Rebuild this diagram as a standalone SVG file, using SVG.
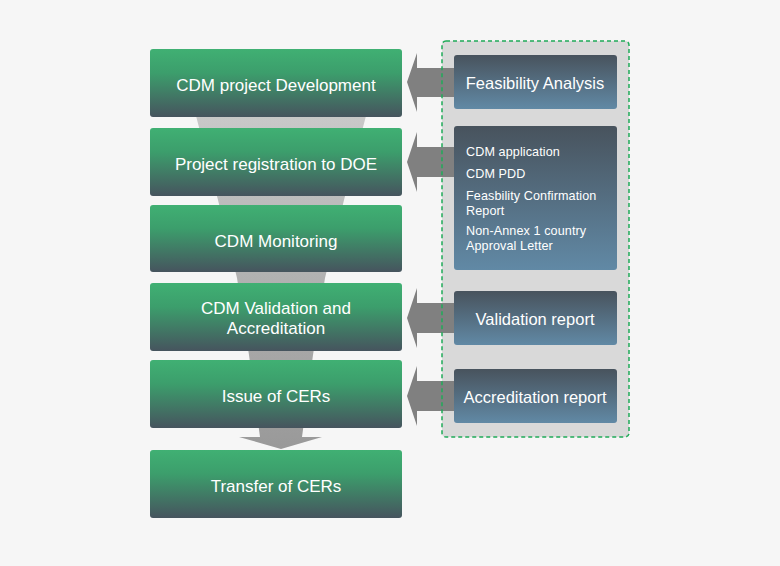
<svg xmlns="http://www.w3.org/2000/svg" width="780" height="566" viewBox="0 0 780 566">
<defs>
<linearGradient id="gGreen" x1="0" y1="0" x2="0" y2="1">
<stop offset="0" stop-color="#40b073"/>
<stop offset="0.35" stop-color="#3c9e6c"/>
<stop offset="1" stop-color="#46545e"/>
</linearGradient>
<linearGradient id="gBlue" x1="0" y1="0" x2="0" y2="1">
<stop offset="0" stop-color="#48535d"/>
<stop offset="1" stop-color="#6189a5"/>
</linearGradient>
<linearGradient id="gFunnel" gradientUnits="userSpaceOnUse" x1="0" y1="110" x2="0" y2="450">
<stop offset="0" stop-color="#c9c9c9"/>
<stop offset="1" stop-color="#999999"/>
</linearGradient>
<style>
.g{fill:url(#gGreen)}
.b{fill:url(#gBlue)}
.t{font-family:"Liberation Sans",Arial,sans-serif;fill:#fff;text-anchor:middle;font-size:17px}
.tb{font-family:"Liberation Sans",Arial,sans-serif;fill:#fff;text-anchor:middle;font-size:16.5px}
.ts{font-family:"Liberation Sans",Arial,sans-serif;fill:#fff;font-size:12.6px;letter-spacing:0.1px}
.arr{fill:#808080}
</style>
</defs>
<rect width="780" height="566" fill="#f6f6f6"/>
<g id="funnel">
<polygon fill="url(#gFunnel)" points="195,112 367,112 344,200 325,278 313,355 302,437 322,437 281,449 239,437 260,437 249,355 237,278 218,200"/>
</g>
<g id="inputs-panel">
<rect x="442" y="41" width="187" height="396" rx="4" fill="#d9d9d9"/>
</g>
<g id="connectors">
<polygon class="arr" points="456,68 417,68 417,53 407,82 417,112 417,97 456,97"/>
<polygon class="arr" points="456,147 417,147 417,132 407,162 417,192 417,177 456,177"/>
<polygon class="arr" points="456,303 417,303 417,288 407,318 417,348 417,333 456,333"/>
<polygon class="arr" points="456,381 417,381 417,366 407,396 417,426 417,411 456,411"/>
</g>
<rect x="442" y="41" width="187" height="396" rx="4" fill="none" stroke="#1fab58" stroke-width="1.5" stroke-dasharray="4 3"/>
<g id="n1"><rect class="g" x="150" y="49" width="252" height="68" rx="3"/><text class="t" x="276" y="91">CDM project Development</text></g>
<g id="n2"><rect class="g" x="150" y="128" width="252" height="68" rx="3"/><text class="t" x="276" y="170">Project registration to DOE</text></g>
<g id="n3"><rect class="g" x="150" y="205" width="252" height="67" rx="3"/><text class="t" x="276" y="247">CDM Monitoring</text></g>
<g id="n4"><rect class="g" x="150" y="283" width="252" height="68" rx="3"/><text class="t" x="276" y="314">CDM Validation and</text><text class="t" x="276" y="334">Accreditation</text></g>
<g id="n5"><rect class="g" x="150" y="360" width="252" height="68" rx="3"/><text class="t" x="276" y="402">Issue of CERs</text></g>
<g id="n6"><rect class="g" x="150" y="450" width="252" height="68" rx="3"/><text class="t" x="276" y="492">Transfer of CERs</text></g>
<g id="i1"><rect class="b" x="454" y="55" width="163" height="54" rx="3"/><text class="tb" x="535" y="89">Feasibility Analysis</text></g>
<g id="i2"><rect class="b" x="454" y="126" width="163" height="144" rx="3"/>
<text class="ts" x="466" y="156">CDM application</text>
<text class="ts" x="466" y="178">CDM PDD</text>
<text class="ts" x="466" y="200">Feasbility Confirmation</text>
<text class="ts" x="466" y="214.5">Report</text>
<text class="ts" x="466" y="235">Non-Annex 1 country</text>
<text class="ts" x="466" y="249.5">Approval Letter</text>
</g>
<g id="i3"><rect class="b" x="454" y="291" width="163" height="54" rx="3"/><text class="tb" x="535" y="325">Validation report</text></g>
<g id="i4"><rect class="b" x="454" y="369" width="163" height="54" rx="3"/><text class="tb" x="535" y="403">Accreditation report</text></g>
</svg>
